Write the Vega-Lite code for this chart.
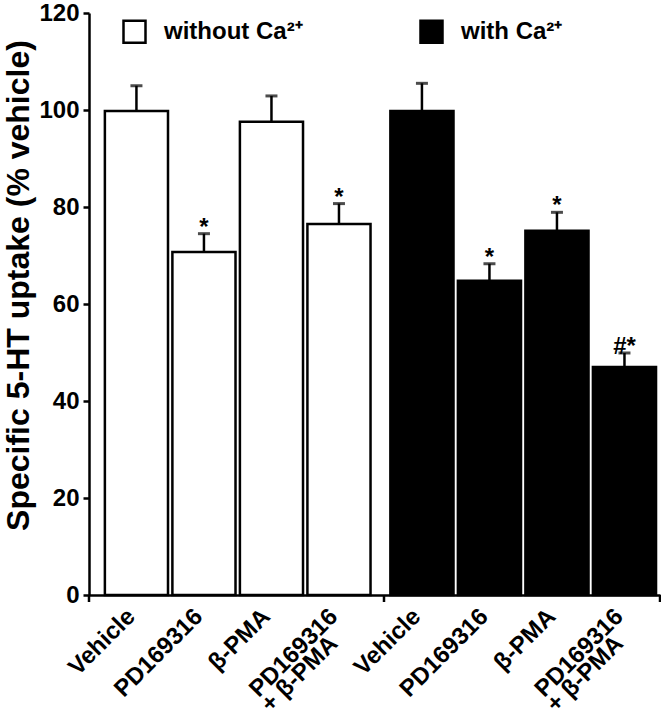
{
  "$schema": "https://vega.github.io/schema/vega-lite/v6.json",
  "width": 571,
  "height": 582,
  "autosize": {"type": "none"},
  "padding": {"left": 89, "top": 13, "right": 1, "bottom": 125},
  "background": "white",
  "config": {
    "view": {"stroke": null},
    "font": "Liberation Sans",
    "axisX": {"labels": false, "ticks": false, "domainWidth": 2.5, "domainColor": "black", "grid": false},
    "axisY": {"grid": false, "tickCount": 6, "labelFontSize": 24, "labelFontWeight": "bold", "labelColor": "black", "labelPadding": 4,
              "tickSize": 6, "tickWidth": 2.5, "tickColor": "black", "domainWidth": 2.5, "domainColor": "black",
              "titleFontSize": 32, "titleFontWeight": "bold", "titleColor": "black", "titlePadding": 3, "titleY": 272}
  },
  "data": {"values": [
    {"group": "without Ca²⁺", "treatment": "Vehicle", "label": "Vehicle", "label2": "", "mean": 99.8, "upper": 105.0, "sig": ""},
    {"group": "without Ca²⁺", "treatment": "PD169316", "label": "PD169316", "label2": "", "mean": 70.7, "upper": 74.5, "sig": "*"},
    {"group": "without Ca²⁺", "treatment": "β-PMA", "label": "β-PMA", "label2": "", "mean": 97.6, "upper": 102.9, "sig": ""},
    {"group": "without Ca²⁺", "treatment": "PD169316 + β-PMA", "label": "PD169316", "label2": "+ β-PMA", "mean": 76.5, "upper": 80.7, "sig": "*"},
    {"group": "with Ca²⁺", "treatment": "Vehicle", "label": "Vehicle", "label2": "", "mean": 99.8, "upper": 105.5, "sig": ""},
    {"group": "with Ca²⁺", "treatment": "PD169316", "label": "PD169316", "label2": "", "mean": 64.8, "upper": 68.3, "sig": "*"},
    {"group": "with Ca²⁺", "treatment": "β-PMA", "label": "β-PMA", "label2": "", "mean": 75.1, "upper": 78.9, "sig": "*"},
    {"group": "with Ca²⁺", "treatment": "PD169316 + β-PMA", "label": "PD169316", "label2": "+ β-PMA", "mean": 47.0, "upper": 49.9, "sig": "#*"}
  ]},
  "layer": [
    {
      "mark": {"type": "bar", "stroke": "black", "strokeWidth": 2.5},
      "encoding": {
        "x": {"field": "group", "type": "nominal", "sort": ["without Ca²⁺", "with Ca²⁺"], "title": null,
              "scale": {"paddingInner": 0, "paddingOuter": 0}},
        "xOffset": {"field": "treatment", "type": "nominal", "sort": ["Vehicle", "PD169316", "β-PMA", "PD169316 + β-PMA"],
                    "scale": {"paddingInner": 0.065, "paddingOuter": 0.147, "align": 0.8}},
        "y": {"field": "mean", "type": "quantitative", "scale": {"domain": [0, 120], "nice": false},
              "title": "Specific 5-HT uptake (% vehicle)"},
        "fill": {"field": "group", "type": "nominal",
                 "scale": {"domain": ["without Ca²⁺", "with Ca²⁺"], "range": ["white", "black"]},
                 "legend": {"orient": "none", "legendX": 33, "legendY": 6, "direction": "horizontal", "title": null,
                            "symbolType": "square", "symbolSize": 484, "symbolStrokeColor": "black", "symbolStrokeWidth": 2.5,
                            "labelFontSize": 24, "labelFontWeight": "bold", "labelColor": "black", "labelOffset": 17,
                            "columnPadding": 112, "labelFont": "Liberation Sans", "labelLimit": 300}}
      }
    },
    {
      "mark": {"type": "rule", "strokeWidth": 2.5, "color": "black"},
      "encoding": {
        "x": {"field": "group", "type": "nominal", "sort": ["without Ca²⁺", "with Ca²⁺"], "title": null},
        "xOffset": {"field": "treatment", "type": "nominal", "sort": ["Vehicle", "PD169316", "β-PMA", "PD169316 + β-PMA"]},
        "y": {"field": "mean", "type": "quantitative", "title": "Specific 5-HT uptake (% vehicle)"},
        "y2": {"field": "upper"}
      }
    },
    {
      "mark": {"type": "tick", "orient": "horizontal", "size": 12, "thickness": 3, "color": "black"},
      "encoding": {
        "x": {"field": "group", "type": "nominal", "sort": ["without Ca²⁺", "with Ca²⁺"], "title": null},
        "xOffset": {"field": "treatment", "type": "nominal", "sort": ["Vehicle", "PD169316", "β-PMA", "PD169316 + β-PMA"]},
        "y": {"field": "upper", "type": "quantitative", "title": "Specific 5-HT uptake (% vehicle)"}
      }
    },
    {
      "mark": {"type": "text", "fontSize": 24, "fontWeight": "bold", "baseline": "alphabetic", "dy": 1, "color": "black"},
      "encoding": {
        "x": {"field": "group", "type": "nominal", "sort": ["without Ca²⁺", "with Ca²⁺"], "title": null},
        "xOffset": {"field": "treatment", "type": "nominal", "sort": ["Vehicle", "PD169316", "β-PMA", "PD169316 + β-PMA"]},
        "y": {"field": "upper", "type": "quantitative", "title": "Specific 5-HT uptake (% vehicle)"},
        "text": {"field": "sig"}
      }
    },
    {
      "mark": {"type": "text", "angle": 315, "align": "right", "baseline": "alphabetic", "fontSize": 24, "fontWeight": "bold", "yOffset": 23, "xOffset": 3, "color": "black"},
      "encoding": {
        "x": {"field": "group", "type": "nominal", "sort": ["without Ca²⁺", "with Ca²⁺"], "title": null},
        "xOffset": {"field": "treatment", "type": "nominal", "sort": ["Vehicle", "PD169316", "β-PMA", "PD169316 + β-PMA"]},
        "y": {"datum": 0, "type": "quantitative", "title": "Specific 5-HT uptake (% vehicle)"},
        "text": {"field": "label"}
      }
    },
    {
      "mark": {"type": "text", "angle": 315, "align": "right", "baseline": "alphabetic", "fontSize": 24, "fontWeight": "bold", "yOffset": 50, "xOffset": 14, "color": "black"},
      "encoding": {
        "x": {"field": "group", "type": "nominal", "sort": ["without Ca²⁺", "with Ca²⁺"], "title": null},
        "xOffset": {"field": "treatment", "type": "nominal", "sort": ["Vehicle", "PD169316", "β-PMA", "PD169316 + β-PMA"]},
        "y": {"datum": 0, "type": "quantitative", "title": "Specific 5-HT uptake (% vehicle)"},
        "text": {"field": "label2"}
      }
    },
    {
      "data": {"values": [{"group": "without Ca²⁺"}]},
      "mark": {"type": "rule", "strokeWidth": 2.5, "color": "black", "y2Offset": 7},
      "encoding": {
        "x": {"field": "group", "type": "nominal", "sort": ["without Ca²⁺", "with Ca²⁺"], "bandPosition": 0, "title": null},
        "y": {"datum": 0, "type": "quantitative", "title": "Specific 5-HT uptake (% vehicle)"},
        "y2": {"datum": 0}
      }
    },
    {
      "data": {"values": [{"group": "with Ca²⁺"}]},
      "mark": {"type": "rule", "strokeWidth": 2.5, "color": "black", "y2Offset": 7, "xOffset": 9.5},
      "encoding": {
        "x": {"field": "group", "type": "nominal", "sort": ["without Ca²⁺", "with Ca²⁺"], "bandPosition": 0, "title": null},
        "y": {"datum": 0, "type": "quantitative", "title": "Specific 5-HT uptake (% vehicle)"},
        "y2": {"datum": 0}
      }
    },
    {
      "data": {"values": [{"group": "with Ca²⁺"}]},
      "mark": {"type": "rule", "strokeWidth": 2.5, "color": "black", "y2Offset": 7},
      "encoding": {
        "x": {"field": "group", "type": "nominal", "sort": ["without Ca²⁺", "with Ca²⁺"], "bandPosition": 1, "title": null},
        "y": {"datum": 0, "type": "quantitative", "title": "Specific 5-HT uptake (% vehicle)"},
        "y2": {"datum": 0}
      }
    }
  ]
}
